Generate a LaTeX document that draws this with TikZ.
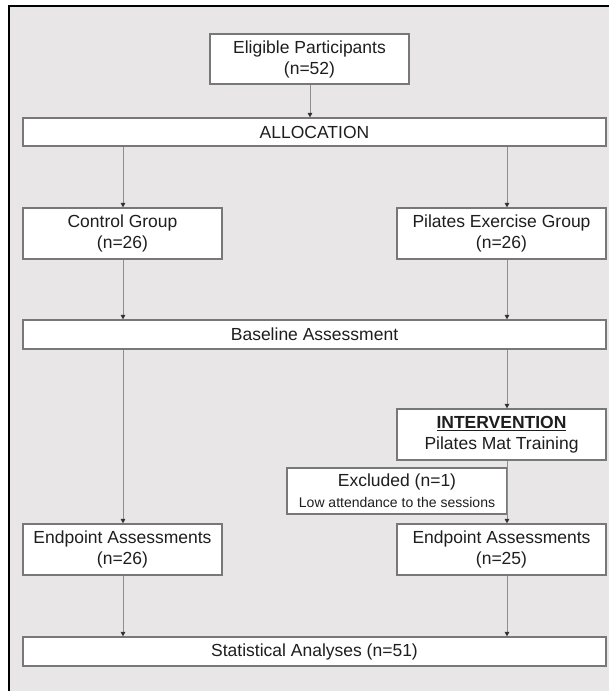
\documentclass[tikz,border=0pt]{standalone}
\usepackage{fontspec}
\setmainfont{Liberation Sans}
\usetikzlibrary{arrows.meta}
\definecolor{bg}{HTML}{E8E6E7}
\definecolor{boxline}{HTML}{787878}
\definecolor{connline}{HTML}{8E8E8E}
\definecolor{txt}{HTML}{1E1E1E}
\begin{document}
\begin{tikzpicture}[x=1pt,y=-1pt,
  box/.style={draw=boxline, line width=1.2pt, fill=white, inner sep=0pt, align=center, text=txt, font=\fontsize{17.5}{21}\selectfont},
  conn/.style={draw=connline, line width=0.9pt, -{Triangle[length=4.5pt,width=4.5pt,color=black!80]}}
]
\useasboundingbox (0,0) rectangle (609,691);
\clip (0,0) rectangle (609,691);
\fill[white] (0,0) rectangle (609,691);
\fill[bg] (9,6) rectangle (609,691);
\draw[black, line width=2pt] (9,700) -- (9,6) -- (620,6);

\coordinate (lx) at (123,0);
\coordinate (mx) at (310,0);
\coordinate (rx) at (507,0);

\node[box, minimum width=199pt, minimum height=50pt] (elig) at (309.5,59) {Eligible Participants\\(n=52)};
\node[box, minimum width=583pt, minimum height=28pt] (alloc) at (314.5,132) {ALLOCATION};
\node[box, minimum width=199pt, minimum height=51pt] (ctrl) at (122.5,233.5) {Control Group\\(n=26)};
\node[box, minimum width=209pt, minimum height=51pt] (pil) at (501.5,233.5) {Pilates Exercise Group\\(n=26)};
\node[box, minimum width=583pt, minimum height=29pt] (base) at (314.5,334.5) {Baseline Assessment};
\node[box, minimum width=209pt, minimum height=51pt] (interv) at (501.5,434.5) {\textbf{\underline{INTERVENTION}}\\Pilates Mat Training};
\node[box, minimum width=220pt, minimum height=46pt] (excl) at (397,491) {Excluded (n=1)\\{\fontsize{14}{17}\selectfont Low attendance to the sessions}};
\node[box, minimum width=199pt, minimum height=51pt] (endL) at (122.5,549.5) {Endpoint Assessments\\(n=26)};
\node[box, minimum width=209pt, minimum height=51pt] (endR) at (501.5,549.5) {Endpoint Assessments\\(n=25)};
\node[box, minimum width=583pt, minimum height=29pt] (stat) at (314.5,651.5) {Statistical Analyses (n=51)};

\draw[conn] (elig.south -| mx) -- (alloc.north -| mx);
\draw[conn] (alloc.south -| lx) -- (ctrl.north -| lx);
\draw[conn] (alloc.south -| rx) -- (pil.north -| rx);
\draw[conn] (ctrl.south -| lx) -- (base.north -| lx);
\draw[conn] (pil.south -| rx) -- (base.north -| rx);
\draw[conn] (base.south -| lx) -- (endL.north -| lx);
\draw[conn] (base.south -| rx) -- (interv.north -| rx);
\draw[conn] (interv.south -| rx) -- (endR.north -| rx);
\draw[conn] (endL.south -| lx) -- (stat.north -| lx);
\draw[conn] (endR.south -| rx) -- (stat.north -| rx);
\end{tikzpicture}
\end{document}
